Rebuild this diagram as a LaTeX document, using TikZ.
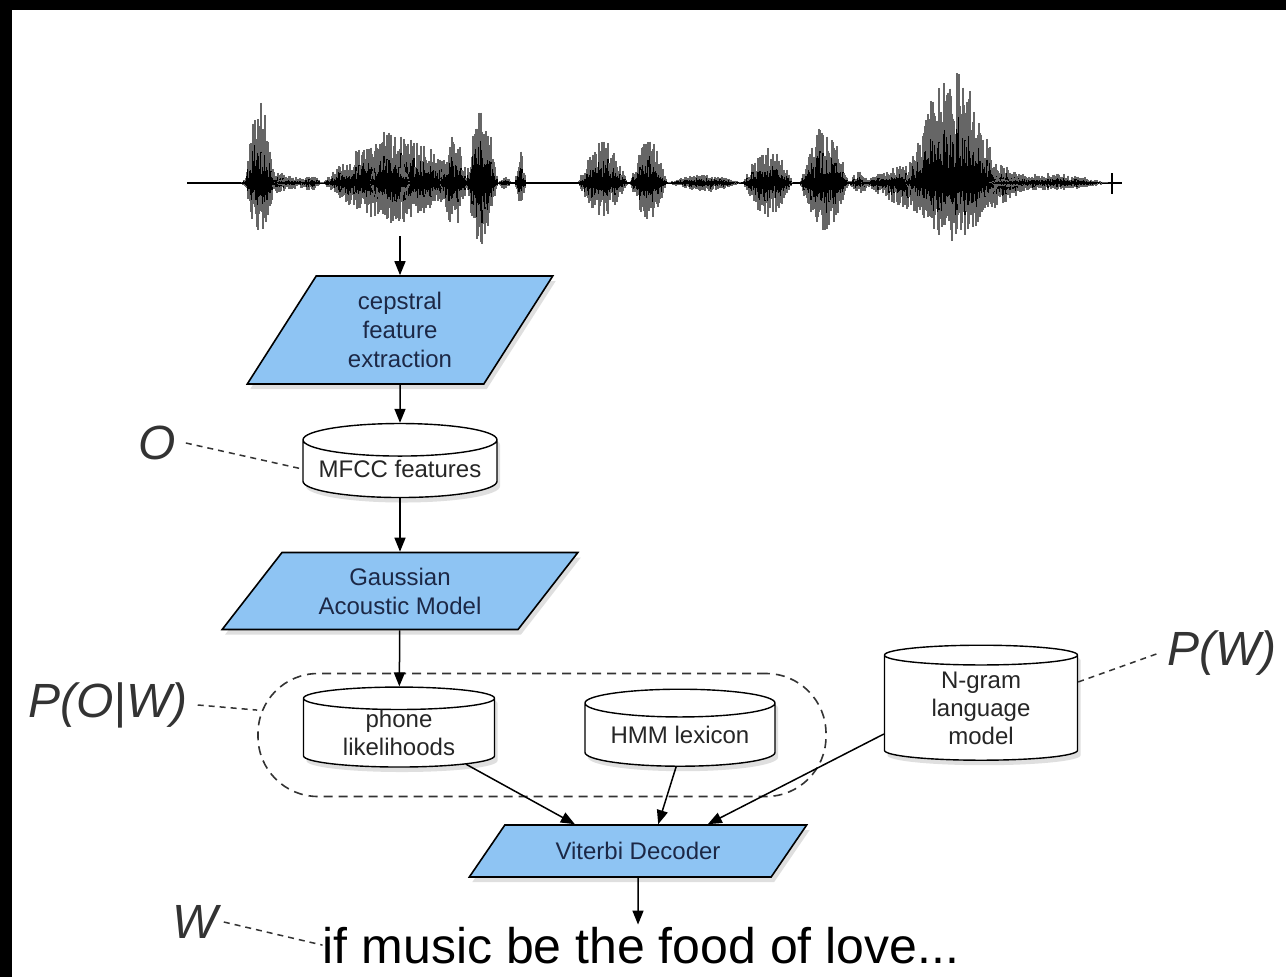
\documentclass[tikz,border=0pt]{standalone}
\usepackage{fontspec}
\setmainfont{Liberation Sans}
\usetikzlibrary{arrows.meta,shapes.geometric,shadows}
\definecolor{boxblue}{RGB}{142,196,243}
\definecolor{boxtext}{RGB}{28,40,70}
\begin{document}
\begin{tikzpicture}[
x=1pt,y=-1pt,
block/.style={
trapezium,
trapezium stretches=true,
draw,
line width=1.6pt,
fill=boxblue,
text=boxtext,
align=center,
inner sep=0pt,
font=\fontsize{24}{29}\selectfont,
drop shadow={shadow xshift=3pt,shadow yshift=-5pt,opacity=0.25}
},
store/.style={
cylinder,
shape border rotate=90,
draw,
line width=1.4pt,
fill=white,
aspect=0.2,
align=center,
inner sep=0pt,
text=black!85,
font=\fontsize{24}{28}\selectfont,
drop shadow={shadow xshift=3pt,shadow yshift=-5pt,opacity=0.25}
},
line/.style={-{Triangle[length=14pt,width=11pt]}, line width=1.5pt},
link/.style={dash pattern=on 6pt off 5pt, line width=1.5pt, black!80},
label/.style={font=\fontsize{48}{48}\selectfont\itshape, text=black!80, inner sep=0pt},
wavelight/.style={line width=1.1pt, black!60},
wavedark/.style={line width=1.1pt, black}
]

% frame
\fill[black] (0,0) rectangle (1286,977);
\fill[white] (12,10) rectangle (1286,977);

% waveform
\pgfmathsetseed{11}
\draw[line width=2.5pt] (187,183) -- (1122,183);
\draw[line width=2pt] (1112,173) -- (1112,194);
\foreach \a/\b/\u/\d in {240/300/15/12, 245/275/81/57, 273/315/6/6, 300/322/8/8,
322/468/48/40, 370/410/57/42, 440/468/50/45, 466/498/78/65, 498/512/6/6,
515/526/32/20, 578/628/42/33, 630/667/45/38, 667/742/9/9, 743/793/37/34,
800/849/59/52, 849/870/12/12, 860/1040/30/36, 905/1000/114/60, 985/1110/10/8}{
\foreach \x in {\a,...,\b}{
\pgfmathsetmacro\e{sin(180/(\b-\a)*(\x-\a))}
\pgfmathsetmacro\hu{\u*\e*(0.35+0.65*rnd)}
\pgfmathsetmacro\hd{\d*\e*(0.35+0.65*rnd)}
\pgfmathsetmacro\cu{\hu*(0.3+0.35*rnd)}
\pgfmathsetmacro\cd{\hd*(0.3+0.35*rnd)}
\draw[wavelight] (\x,183-\hu) -- (\x,183+\hd);
\draw[wavedark] (\x,183-\cu) -- (\x,183+\cd);
}
}
\coordinate (wave) at (400,236);

% blocks
\node[block, trapezium left angle=60.5, trapezium right angle=119.5,
minimum width=306pt, minimum height=108pt] (cep) at (400,330)
{cepstral\\feature\\extraction};

\node[store, minimum width=194pt, minimum height=74pt] (mfcc) at (400,469)
{MFCC features};

\node[block, trapezium left angle=48.5, trapezium right angle=131.5,
minimum width=356pt, minimum height=77pt] (gauss) at (400,591)
{Gaussian\\Acoustic Model};

\node[draw, dash pattern=on 9pt off 6pt, line width=1.6pt, rounded corners=60pt,
minimum width=568pt, minimum height=123pt, black!80] (grp) at (542,735) {};

\node[store, minimum width=191pt, minimum height=76pt] (phone) at (399,733)
{phone\\likelihoods};

\node[store, minimum width=190pt, minimum height=77pt] (hmm) at (680,735)
{HMM lexicon};

\node[store, minimum width=193pt, minimum height=115pt] (ngram) at (981,708)
{N-gram\\language\\model};

\node[block, trapezium left angle=38.7, trapezium right angle=141.3,
minimum width=338pt, minimum height=52pt] (vit) at (638,851)
{Viterbi Decoder};

\node[font=\fontsize{50}{50}\selectfont, inner sep=0pt, anchor=base] (out) at (641,963)
{if music be the food of love...};

% labels
\node[label] (lo) at (157,443) {O};
\node[label] (lpow) at (108,705) {P(O|W)};
\node[label] (lpw) at (1222,653) {P(W)};
\node[label] (lw) at (195,922) {W};

% arrows
\draw[line] (wave) -- (cep);
\draw[line] (cep) -- (mfcc);
\draw[line] (mfcc) -- (gauss);
\draw[line] (gauss) -- (phone);
\draw[line] (phone.-25) -- (vit.157);
\draw[line] (hmm.-97) -- (vit.53);
\draw[line] (ngram.195) -- (vit.21);
\draw[line] (vit) -- ([yshift=2pt]vit.south |- out.north);

% dashed links
\draw[link] ([xshift=10pt]lo.east) -- (mfcc.west);
\draw[link] ([xshift=10pt]lpow.east) -- (grp.175);
\draw[link] (ngram.15) -- ([xshift=-8pt]lpw.west);
\draw[link] ([xshift=6pt]lw.east) -- (out.west);

\end{tikzpicture}
\end{document}
